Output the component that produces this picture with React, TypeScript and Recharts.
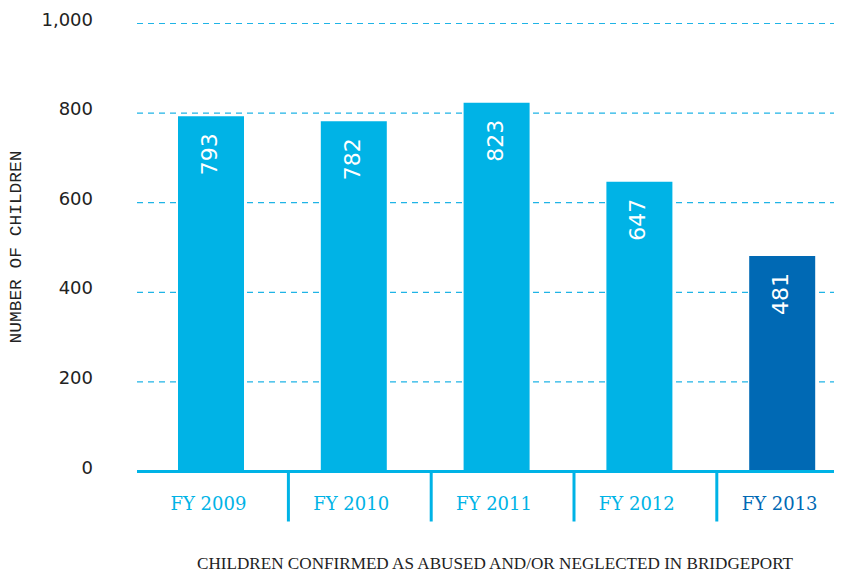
import React from "react";
import { BarChart, Bar, XAxis, YAxis, CartesianGrid, Cell, LabelList } from "recharts";

const categories = ["FY 2009", "FY 2010", "FY 2011", "FY 2012", "FY 2013"];
const children = [793, 782, 823, 647, 481];
const barColors = ["#00b3e6", "#00b3e6", "#00b3e6", "#00b3e6", "#0069b4"];
const yTicks = [0, 200, 400, 600, 800, 1000];
const yTitle = "NUMBER OF CHILDREN";
const chartTitle = "CHILDREN CONFIRMED AS ABUSED AND/OR NEGLECTED IN BRIDGEPORT";

const data = categories.map((c, i) => ({ category: c, value: children[i], color: barColors[i] }));

const XTick = (props: any) => {
  const { x, y, payload, index } = props;
  const color = barColors[index] ?? "#00b3e6";
  const isLast = index === categories.length - 1;
  return (
    <g>
      <text
        x={x - 3}
        y={y + 38}
        textAnchor="middle"
        fill={color}
        fontFamily="'DejaVu Serif', 'Liberation Serif', serif"
        fontSize={18}
      >
        {payload.value}
      </text>
      {!isLast && (
        <line x1={x + 77} x2={x + 77} y1={y} y2={y + 50} stroke="#00b3e6" strokeWidth={3} />
      )}
    </g>
  );
};

const YTick = (props: any) => {
  const { x, y, payload } = props;
  return (
    <text
      x={x}
      y={y + 2}
      textAnchor="end"
      fill="#222"
      fontFamily="'DejaVu Sans', sans-serif"
      fontSize={18}
    >
      {payload.value.toLocaleString("en-US")}
    </text>
  );
};

const BarValue = (props: any) => {
  const { x, y, width, value } = props;
  const tx = x + width / 2 + 6;
  const ty = y + 17;
  return (
    <text
      x={tx}
      y={ty}
      transform={`rotate(-90 ${tx} ${ty})`}
      textAnchor="end"
      fill="#fff"
      fontFamily="'DejaVu Sans', sans-serif"
      fontSize={22}
    >
      {value}
    </text>
  );
};

export default function App() {
  return (
    <div style={{ width: 834, height: 565, overflow: "hidden" }}>
      <BarChart
        width={860}
        height={565}
        data={data}
        margin={{ top: 15.5, right: 14, bottom: 41.5, left: 0 }}
        barCategoryGap={0}
      >
        <CartesianGrid
          vertical={false}
          stroke="#1fb4e6"
          strokeWidth={1.2}
          strokeDasharray="6 5"
        />
        <XAxis
          dataKey="category"
          height={60}
          padding={{ left: 3, right: 0 }}
          axisLine={{ stroke: "#00b3e6", strokeWidth: 3 }}
          tickLine={false}
          tickSize={0}
          tickMargin={0}
          tick={<XTick />}
          interval={0}
          label={{
            content: () => (
              <text
                x={189}
                y={561}
                textLength={596}
                lengthAdjust="spacingAndGlyphs"
                fill="#222"
                fontFamily="'Liberation Serif', serif"
                fontSize={16}
              >
                {chartTitle}
              </text>
            ),
          }}
        />
        <YAxis
          width={129}
          domain={[0, 1000]}
          ticks={yTicks}
          axisLine={false}
          tickLine={false}
          tickSize={0}
          tickMargin={44}
          tick={<YTick />}
          interval={0}
          label={{
            content: () => (
              <text
                x={13}
                y={239}
                transform="rotate(-90 13 239)"
                textAnchor="middle"
                textLength={193}
                lengthAdjust="spacingAndGlyphs"
                fill="#222"
                fontFamily="'Liberation Mono', 'Courier New', monospace"
                fontSize={16}
              >
                {yTitle}
              </text>
            ),
          }}
        />
        <Bar dataKey="value" barSize={66} isAnimationActive={false}>
          {data.map((d, i) => (
            <Cell key={i} fill={d.color} />
          ))}
          <LabelList dataKey="value" content={<BarValue />} />
        </Bar>
      </BarChart>
    </div>
  );
}
